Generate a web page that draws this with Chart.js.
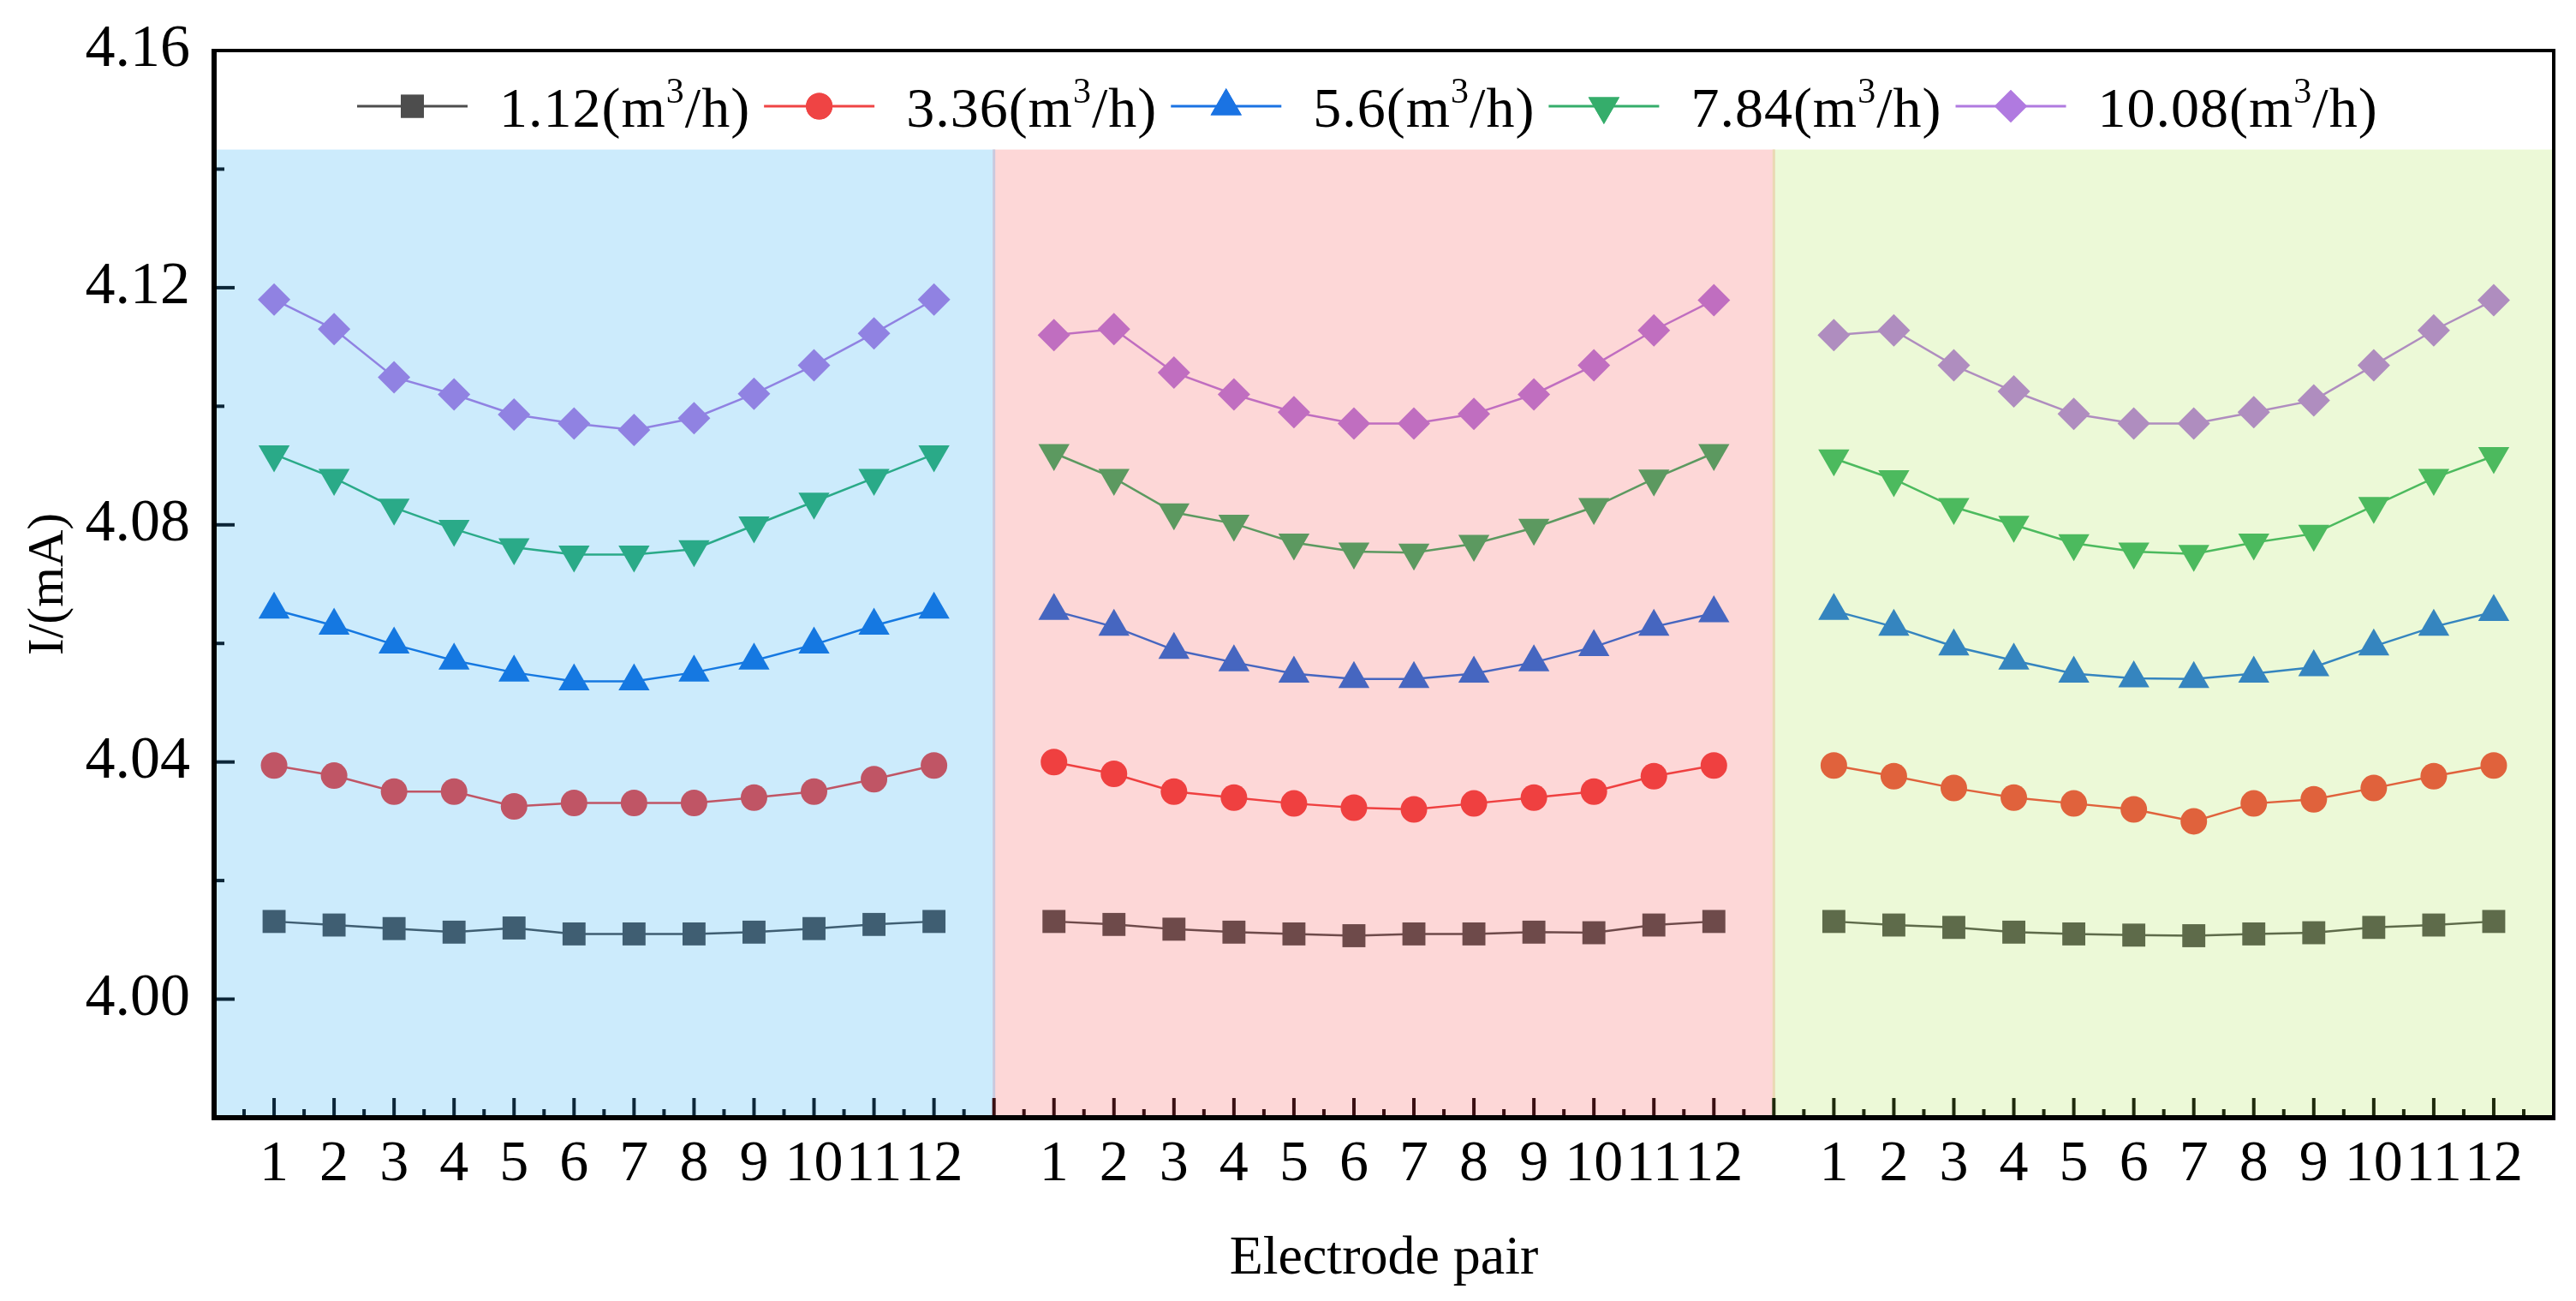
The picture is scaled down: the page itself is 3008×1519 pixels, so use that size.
<!DOCTYPE html>
<html>
<head>
<meta charset="utf-8">
<script src="https://cdn.jsdelivr.net/npm/chart.js@4.4.1/dist/chart.umd.min.js"></script>
<style>
  html, body { margin: 0; padding: 0; background: #fff; }
  canvas { display: block; }
</style>
</head>
<body>
<canvas id="c" width="3008" height="1519" style="width:3008px;height:1519px"></canvas>
<script>
// categories
var electrodes = [1, 2, 3, 4, 5, 6, 7, 8, 9, 10, 11, 12];
var flowLabels = ['1.12', '3.36', '5.6', '7.84', '10.08'];
var yTicks = [4.00, 4.04, 4.08, 4.12, 4.16];

// current I (mA), one row per test group (3 groups of 12 electrode pairs)
var i112 = [
  [4.0131, 4.0125, 4.0119, 4.0113, 4.0120, 4.0110, 4.0110, 4.0110, 4.0113, 4.0119, 4.0126, 4.0131],
  [4.0131, 4.0126, 4.0118, 4.0113, 4.0110, 4.0107, 4.0110, 4.0110, 4.0113, 4.0112, 4.0125, 4.0131],
  [4.0131, 4.0125, 4.0121, 4.0113, 4.0110, 4.0108, 4.0107, 4.0110, 4.0112, 4.0121, 4.0125, 4.0131]
];
var i336 = [
  [4.0394, 4.0377, 4.0350, 4.0350, 4.0325, 4.0331, 4.0331, 4.0331, 4.0340, 4.0350, 4.0371, 4.0394],
  [4.0400, 4.0380, 4.0350, 4.0340, 4.0330, 4.0323, 4.0320, 4.0330, 4.0340, 4.0350, 4.0376, 4.0394],
  [4.0394, 4.0376, 4.0356, 4.0340, 4.0330, 4.0320, 4.0300, 4.0330, 4.0337, 4.0356, 4.0376, 4.0394]
];
var i56 = [
  [4.0657, 4.0630, 4.0598, 4.0571, 4.0551, 4.0536, 4.0536, 4.0551, 4.0571, 4.0598, 4.0630, 4.0657],
  [4.0655, 4.0628, 4.0589, 4.0568, 4.0549, 4.0540, 4.0540, 4.0549, 4.0568, 4.0594, 4.0628, 4.0651],
  [4.0655, 4.0628, 4.0595, 4.0571, 4.0549, 4.0541, 4.0540, 4.0549, 4.0560, 4.0595, 4.0628, 4.0653]
];
var i784 = [
  [4.0919, 4.0879, 4.0829, 4.0793, 4.0762, 4.0750, 4.0750, 4.0759, 4.0799, 4.0839, 4.0879, 4.0919],
  [4.0921, 4.0879, 4.0821, 4.0802, 4.0770, 4.0755, 4.0753, 4.0768, 4.0795, 4.0830, 4.0878, 4.0921],
  [4.0912, 4.0877, 4.0830, 4.0800, 4.0769, 4.0755, 4.0751, 4.0770, 4.0785, 4.0832, 4.0879, 4.0916]
];
var i1008 = [
  [4.1180, 4.1130, 4.1049, 4.1020, 4.0986, 4.0971, 4.0960, 4.0980, 4.1021, 4.1069, 4.1123, 4.1180],
  [4.1120, 4.1130, 4.1057, 4.1020, 4.0990, 4.0971, 4.0971, 4.0987, 4.1020, 4.1069, 4.1128, 4.1179],
  [4.1120, 4.1128, 4.1069, 4.1025, 4.0987, 4.0971, 4.0971, 4.0990, 4.1010, 4.1069, 4.1128, 4.1179]
];

var series = [i112, i336, i56, i784, i1008];
var slot = electrodes.length + 1;   // 13 x-units per group
var nGroups = 3;

// styles
var FONT = "'Liberation Serif', 'Times New Roman', serif";
var markers = [
  {style: 'rect', r: 19, rot: 0},
  {style: 'circle', r: 15.5, rot: 0},
  {style: 'triangle', r: 21, rot: 0},
  {style: 'triangle', r: 21, rot: 180},
  {style: 'rectRot', r: 19, rot: 0}
];
var groupColors = [
  ['#3f5e72', '#c05565', '#1578e1', '#2aaa88', '#9082e2'],
  ['#6e4a4a', '#ef4040', '#4666c0', '#5c9960', '#c06ec0'],
  ['#5e6b4a', '#e0623c', '#3585bf', '#4cba5e', '#af8dbf']
];
var legendColors = ['#4d4d4d', '#ef4444', '#1a73e3', '#35ad6b', '#b07ae0'];
var bandColors = ['#ccebfc', '#fdd7d7', '#ecf9d7'];
var bandEdges = ['#cac9de', '#ead9b4'];
var tickColors = ['#0c2638', '#3a0f12', '#1f2a0c'];

var datasets = [];
for (let s = 0; s < series.length; s++) {
  for (let g = 0; g < nGroups; g++) {
    let m = markers[s];
    let c = groupColors[g][s];
    datasets.push({
      label: flowLabels[s],
      data: electrodes.map((e, i) => ({x: g * slot + e, y: series[s][g][i]})),
      borderColor: c,
      backgroundColor: c,
      borderWidth: 2.5,
      pointStyle: m.style,
      pointRadius: m.r,
      pointRotation: m.rot,
      pointBackgroundColor: c,
      pointBorderWidth: 0,
      tension: 0
    });
  }
}

var decor = {
  id: 'decor',
  beforeDatasetsDraw(chart) {
    const ctx = chart.ctx, xs = chart.scales.x, ys = chart.scales.y, a = chart.chartArea;
    const top = ys.getPixelForValue(4.1433);
    ctx.save();
    for (let g = 0; g < nGroups; g++) {
      const x0 = xs.getPixelForValue(g * slot), x1 = xs.getPixelForValue((g + 1) * slot);
      ctx.fillStyle = bandColors[g];
      ctx.fillRect(x0, top, x1 - x0, a.bottom - top);
    }
    for (let g = 1; g < nGroups; g++) {
      const x = xs.getPixelForValue(g * slot);
      ctx.strokeStyle = bandEdges[g - 1];
      ctx.lineWidth = 3;
      ctx.beginPath(); ctx.moveTo(x, top); ctx.lineTo(x, a.bottom); ctx.stroke();
    }
    ctx.restore();
  },
  afterDraw(chart) {
    const ctx = chart.ctx, xs = chart.scales.x, ys = chart.scales.y, a = chart.chartArea;
    ctx.save();
    // x ticks (inward), tinted per group
    ctx.lineWidth = 4;
    for (let v = 0.5; v < nGroups * slot; v += 0.5) {
      if (v % slot === 0) continue;
      const g = Math.floor(v / slot);
      const major = Number.isInteger(v);
      const x = xs.getPixelForValue(v);
      ctx.strokeStyle = tickColors[g];
      ctx.beginPath(); ctx.moveTo(x, a.bottom); ctx.lineTo(x, a.bottom - (major ? 23 : 10)); ctx.stroke();
    }
    for (let g = 1; g < nGroups; g++) {
      const x = xs.getPixelForValue(g * slot);
      ctx.strokeStyle = tickColors[g];
      ctx.beginPath(); ctx.moveTo(x, a.bottom); ctx.lineTo(x, a.bottom - 23); ctx.stroke();
    }
    // y ticks (inward)
    ctx.strokeStyle = tickColors[0];
    for (let v = 4.00; v < 4.165; v += 0.02) {
      const y = ys.getPixelForValue(v);
      const major = yTicks.some(t => Math.abs(t - v) < 1e-6);
      ctx.beginPath(); ctx.moveTo(a.left, y); ctx.lineTo(a.left + (major ? 24 : 12), y); ctx.stroke();
    }
    // frame
    ctx.strokeStyle = '#000';
    ctx.lineWidth = 4;
    ctx.strokeRect(a.left, a.top, a.right - a.left, a.bottom - a.top);
    ctx.lineWidth = 6;
    ctx.beginPath();
    ctx.moveTo(a.left, a.top - 2); ctx.lineTo(a.left, a.bottom); ctx.lineTo(a.right + 2, a.bottom);
    ctx.stroke();

    // legend
    const cy = ys.getPixelForValue(4.1506);
    let x = a.left + 167;
    ctx.textBaseline = 'alphabetic';
    ctx.textAlign = 'left';
    for (let s = 0; s < flowLabels.length; s++) {
      const c = legendColors[s], m = markers[s];
      ctx.strokeStyle = c;
      ctx.lineWidth = 3;
      ctx.beginPath(); ctx.moveTo(x, cy); ctx.lineTo(x + 129, cy); ctx.stroke();
      ctx.fillStyle = c;
      Chart.helpers.drawPoint(ctx, {pointStyle: m.style, radius: m.r, rotation: m.rot, borderWidth: 0}, x + 64.5, cy);
      ctx.fill();
      x += 129 + 37;
      ctx.fillStyle = '#000';
      ctx.letterSpacing = '1px';
      ctx.font = '66px ' + FONT;
      const base = cy + 24;
      const p1 = flowLabels[s] + '(m';
      ctx.fillText(p1, x, base);
      x += ctx.measureText(p1).width;
      ctx.font = '42px ' + FONT;
      ctx.fillText('3', x, base - 28);
      x += ctx.measureText('3').width;
      ctx.font = '66px ' + FONT;
      ctx.fillText('/h)', x, base);
      x += ctx.measureText('/h)').width + 16;
    }
    ctx.restore();
  }
};

new Chart(document.getElementById('c'), {
  type: 'line',
  data: {datasets: datasets},
  options: {
    responsive: false,
    devicePixelRatio: 1,
    animation: false,
    layout: {padding: {top: 59, right: 26, left: 0, bottom: 0}},
    plugins: {legend: {display: false}, tooltip: {enabled: false}},
    scales: {
      x: {
        type: 'linear',
        min: 0,
        max: nGroups * slot,
        afterFit(scale) { scale.height = 214; scale.paddingLeft = 0; scale.paddingRight = 0; },
        afterBuildTicks(scale) {
          let t = [];
          for (let g = 0; g < nGroups; g++) electrodes.forEach(e => t.push({value: g * slot + e}));
          scale.ticks = t;
        },
        grid: {display: false, drawTicks: false},
        border: {display: false},
        ticks: {
          autoSkip: false,
          maxRotation: 0,
          padding: 14,
          color: '#000',
          font: {family: FONT, size: 68},
          callback: v => String(v % slot)
        },
        title: {
          display: true,
          text: 'Electrode pair',
          color: '#000',
          font: {family: FONT, size: 64},
          padding: {top: 0, bottom: 10}
        }
      },
      y: {
        min: 3.98,
        max: 4.16,
        afterFit(scale) { scale.width = 250; scale.paddingTop = 0; scale.paddingBottom = 0; },
        afterBuildTicks(scale) { scale.ticks = yTicks.map(v => ({value: v})); },
        grid: {display: false, drawTicks: false},
        border: {display: false},
        ticks: {
          padding: 28,
          color: '#000',
          font: {family: FONT, size: 70},
          callback: v => v.toFixed(2)
        },
        title: {
          display: true,
          text: 'I/(mA)',
          color: '#000',
          font: {family: FONT, size: 60},
          padding: {top: 21, bottom: 0}
        }
      }
    }
  },
  plugins: [decor]
});
</script>
</body>
</html>
